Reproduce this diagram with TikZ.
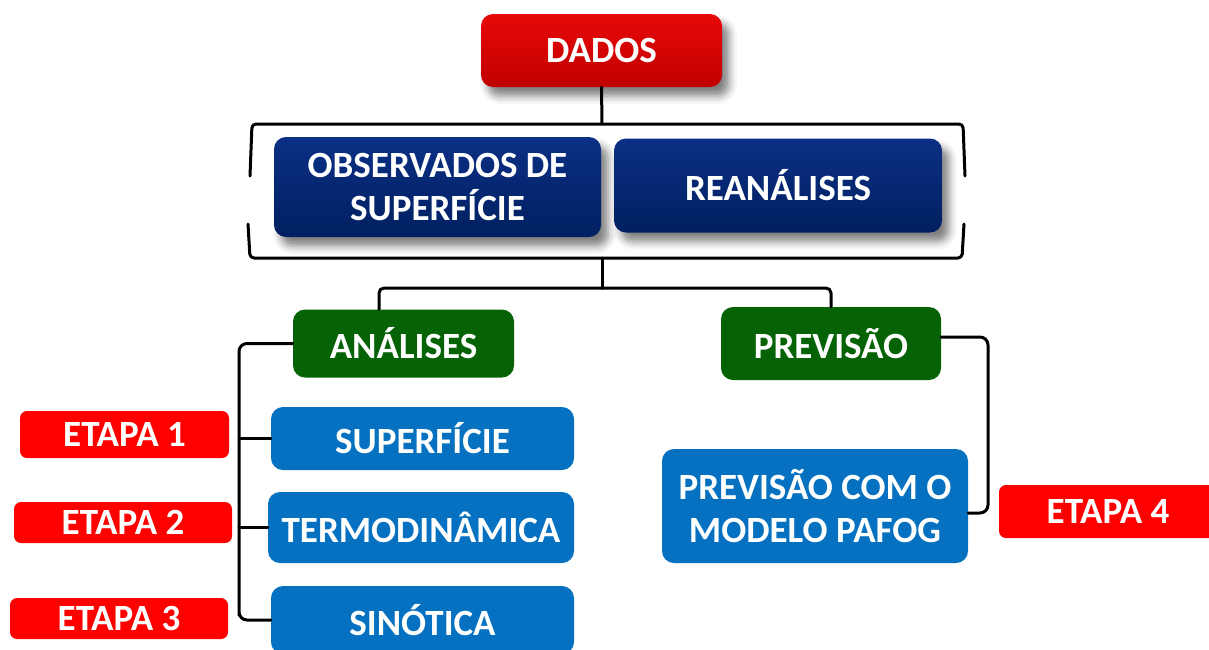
\documentclass[tikz,border=0pt]{standalone}
\usepackage{fontspec}
\setmainfont{Carlito}
\usetikzlibrary{shadows.blur}
\definecolor{dadosred}{HTML}{C00000}
\definecolor{dadosredL}{HTML}{E80808}
\definecolor{navy}{HTML}{002060}
\definecolor{navyL}{HTML}{0B2F85}
\definecolor{grn}{HTML}{056305}
\definecolor{blu}{HTML}{0571C0}
\definecolor{etapared}{HTML}{FF0000}
\begin{document}
\begin{tikzpicture}[x=1pt,y=-1pt,
  box/.style={rounded corners=12pt, text=white, align=center, inner sep=0pt,
    font=\bfseries\fontsize{37}{43}\selectfont},
  shadowed/.style={blur shadow={shadow xshift=7pt, shadow yshift=-9pt,
    shadow blur radius=8pt, shadow opacity=50}},
  redbox/.style={box, shadowed, top color=dadosredL, bottom color=dadosred},
  navybox/.style={box, shadowed, top color=navyL, bottom color=navy},
  greenbox/.style={box, fill=grn},
  bluebox/.style={box, fill=blu},
  etapabox/.style={box, rounded corners=7pt, fill=etapared},
  conn/.style={draw=black, line width=3pt, line cap=round, line join=round}]
\useasboundingbox (0,0) rectangle (1209,649);
\clip (0,0) rectangle (1209,649);

% nodes
\node[redbox, minimum width=241pt, minimum height=73pt] (dados) at (601.5,50.5) {DADOS};
\node[navybox, minimum width=327pt, minimum height=100pt] (obs) at (437.5,187) {OBSERVADOS DE\\SUPERFÍCIE};
\node[navybox, minimum width=328pt, minimum height=94pt] (rea) at (778,185.5) {REANÁLISES};

\node[greenbox, minimum width=221pt, minimum height=68pt] (analises) at (403.5,343.5) {ANÁLISES};
\node[greenbox, minimum width=220pt, minimum height=73pt] (previsao) at (831,343.5) {PREVISÃO};

\node[bluebox, minimum width=303pt, minimum height=63pt] (superficie) at (422.5,438.5) {SUPERFÍCIE};
\node[bluebox, minimum width=306pt, minimum height=71pt] (termo) at (421,527.5) {TERMODINÂMICA};
\node[bluebox, minimum width=303pt, minimum height=68pt] (sinotica) at (422.5,620) {SINÓTICA};
\node[bluebox, minimum width=306pt, minimum height=114pt] (pafog) at (815,506) {PREVISÃO COM O\\MODELO PAFOG};

\node[etapabox, minimum width=209pt, minimum height=47pt] (e1) at (124.5,434.5) {ETAPA 1};
\node[etapabox, minimum width=218pt, minimum height=41pt] (e2) at (123,522.5) {ETAPA 2};
\node[etapabox, minimum width=218pt, minimum height=41pt] (e3) at (119,618.5) {ETAPA 3};
\node[etapabox, minimum width=218pt, minimum height=53pt] (e4) at (1108,511.5) {ETAPA 4};

% bracket around data sources
\coordinate (btop) at (602,124);
\coordinate (bbot) at (602,258);
\coordinate (split) at (602,288);
\draw[conn, rounded corners=4pt] (250,176) -- (252,124) -- (963,124) -- (965,176);
\draw[conn, rounded corners=4pt] (248,224) -- (250,258) -- (962,258) -- (964,224);

% connectors
\draw[conn] (dados.south) -- (btop);
\draw[conn] (bbot) -- (split);
\draw[conn, rounded corners=5pt] (split) -| ([xshift=-24.5pt]analises.north);
\draw[conn, rounded corners=5pt] (split) -| (previsao.north);

\coordinate (aj) at (239,620);
\draw[conn, rounded corners=8pt] (analises.west) -| (aj) |- (sinotica.west);
\draw[conn] (superficie.west -| aj) -- (superficie.west);
\draw[conn] (termo.west -| aj) -- (termo.west);

\coordinate (pj) at (988,420);
\draw[conn, rounded corners=8pt] ([yshift=6.5pt]previsao.east) -| (pj) |- ([yshift=-7pt]pafog.east);
\end{tikzpicture}
\end{document}
